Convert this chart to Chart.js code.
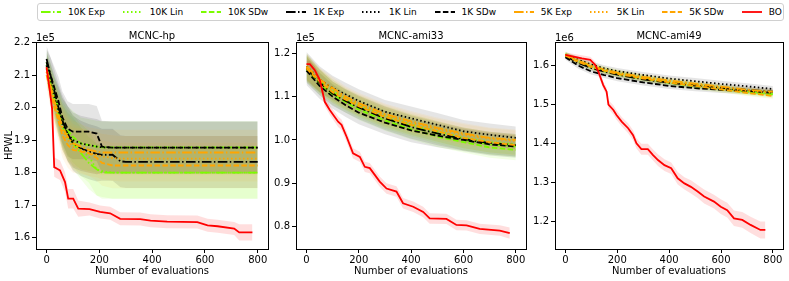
<!DOCTYPE html>
<html>
<head>
<meta charset="utf-8">
<script src="https://cdn.jsdelivr.net/npm/chart.js@4.4.0/dist/chart.umd.min.js"></script>
<style>
  html, body { margin: 0; padding: 0; background: #fff; }
  body { width: 789px; height: 281px; position: relative; overflow: hidden; font-family: 'DejaVu Sans', sans-serif; }
  #legend {
    position: absolute; left: 37px; top: 3px; width: 742px; height: 16px;
    border: 1px solid #d0d0d0; border-radius: 3px;
    display: flex; align-items: center; gap: 17.8px; padding-left: 3px; box-sizing: content-box;
    font-size: 9px; color: #000;
  }
  .item { display: flex; align-items: center; white-space: nowrap; }
  .item svg { margin-right: 7px; }
  canvas { position: absolute; top: 22px; }
</style>
</head>
<body>
<div id="legend"></div>
<canvas id="hpChart" width="272" height="259" style="left:0px"></canvas>
<canvas id="ami33Chart" width="260" height="259" style="left:270px"></canvas>
<canvas id="ami49Chart" width="259" height="259" style="left:530px"></canvas>
<script>
const seriesLabels = ['10K Exp', '10K Lin', '10K SDw', '1K Exp', '1K Lin', '1K SDw', '5K Exp', '5K Lin', '5K SDw', 'BO'];
const xTicks = [0, 200, 400, 600, 800];

// ---- MCNC-hp (x1e5) ----
const hpEvals = [0, 15, 30, 45, 60, 80, 100, 130, 160, 190, 210, 250, 280, 300, 400, 500, 600, 700, 800];
const hp10KExp = [2.13, 2.07, 2.02, 1.98, 1.94, 1.91, 1.89, 1.86, 1.83, 1.81, 1.80, 1.80, 1.80, 1.80, 1.80, 1.80, 1.80, 1.80, 1.80];
const hp10KLin = [2.12, 2.08, 2.03, 1.99, 1.95, 1.92, 1.90, 1.87, 1.85, 1.81, 1.805, 1.80, 1.80, 1.80, 1.80, 1.80, 1.80, 1.80, 1.80];
const hp10KSDw = [2.14, 2.09, 2.04, 2.00, 1.96, 1.93, 1.91, 1.89, 1.885, 1.88, 1.878, 1.878, 1.878, 1.878, 1.878, 1.878, 1.878, 1.878, 1.878];
const hp1KExp = [2.15, 2.10, 2.05, 2.00, 1.96, 1.92, 1.89, 1.875, 1.865, 1.858, 1.855, 1.855, 1.835, 1.833, 1.833, 1.833, 1.833, 1.833, 1.833];
const hp1KLin = [2.13, 2.08, 2.03, 1.99, 1.95, 1.92, 1.90, 1.89, 1.885, 1.88, 1.878, 1.877, 1.877, 1.877, 1.877, 1.877, 1.877, 1.877, 1.877];
const hp1KSDw = [2.14, 2.10, 2.06, 2.02, 1.97, 1.935, 1.926, 1.926, 1.926, 1.92, 1.88, 1.877, 1.877, 1.877, 1.877, 1.877, 1.877, 1.877, 1.877];
const hp5KExp = [2.12, 2.07, 2.02, 1.98, 1.94, 1.91, 1.89, 1.88, 1.87, 1.865, 1.862, 1.862, 1.862, 1.862, 1.862, 1.862, 1.862, 1.862, 1.862];
const hp5KLin = [2.11, 2.06, 2.01, 1.97, 1.93, 1.90, 1.88, 1.87, 1.86, 1.855, 1.85, 1.845, 1.843, 1.843, 1.843, 1.843, 1.843, 1.843, 1.843];
const hp5KSDw = [2.10, 2.05, 2.00, 1.96, 1.915, 1.885, 1.87, 1.865, 1.86, 1.845, 1.83, 1.822, 1.822, 1.822, 1.822, 1.822, 1.822, 1.822, 1.822];
const hpSpread10K = [0.04, 0.05, 0.06, 0.065, 0.07, 0.075, 0.08, 0.08, 0.08, 0.08, 0.08, 0.08, 0.08, 0.08, 0.08, 0.08, 0.08, 0.08, 0.08];
const hpSpread1K = [0.04, 0.055, 0.065, 0.075, 0.08, 0.085, 0.085, 0.085, 0.085, 0.085, 0.08, 0.08, 0.08, 0.08, 0.08, 0.08, 0.08, 0.08, 0.08];
const hpSpread5K = [0.04, 0.05, 0.06, 0.065, 0.07, 0.07, 0.07, 0.07, 0.07, 0.07, 0.07, 0.07, 0.07, 0.07, 0.07, 0.07, 0.07, 0.07, 0.07];
const hpBoEvals = [0, 13, 21, 29, 40, 51, 70, 82, 101, 120, 163, 203, 241, 279, 355, 394, 457, 571, 610, 648, 711, 730, 780];
const hpBo = [2.125, 2.048, 1.997, 1.817, 1.812, 1.807, 1.771, 1.72, 1.72, 1.689, 1.688, 1.679, 1.675, 1.658, 1.657, 1.652, 1.649, 1.648, 1.638, 1.635, 1.628, 1.616, 1.616];
const hpBoSpread = [0.01, 0.02, 0.03, 0.03, 0.03, 0.03, 0.03, 0.03, 0.03, 0.025, 0.02, 0.02, 0.02, 0.02, 0.02, 0.02, 0.02, 0.02, 0.02, 0.02, 0.02, 0.025, 0.025];
const hpYTicks = [1.6, 1.7, 1.8, 1.9, 2.0, 2.1, 2.2];

// ---- MCNC-ami33 (x1e5) ----
const ami33Evals = [0, 50, 100, 150, 200, 300, 400, 500, 600, 700, 800];
const ami3310KExp = [1.165, 1.135, 1.11, 1.092, 1.076, 1.05, 1.032, 1.015, 1.0, 0.99, 0.985];
const ami3310KLin = [1.17, 1.138, 1.114, 1.095, 1.08, 1.055, 1.036, 1.02, 1.005, 0.995, 0.99];
const ami3310KSDw = [1.163, 1.13, 1.105, 1.087, 1.07, 1.045, 1.025, 1.008, 0.995, 0.983, 0.977];
const ami331KExp = [1.165, 1.133, 1.107, 1.09, 1.075, 1.05, 1.03, 1.015, 1.002, 0.993, 0.988];
const ami331KLin = [1.17, 1.14, 1.12, 1.105, 1.09, 1.065, 1.05, 1.035, 1.02, 1.012, 1.005];
const ami331KSDw = [1.16, 1.125, 1.1, 1.08, 1.063, 1.04, 1.022, 1.01, 1.0, 0.99, 0.985];
const ami335KExp = [1.17, 1.14, 1.12, 1.10, 1.085, 1.06, 1.043, 1.028, 1.015, 1.005, 1.0];
const ami335KLin = [1.168, 1.138, 1.115, 1.097, 1.082, 1.058, 1.04, 1.025, 1.012, 1.003, 0.998];
const ami335KSDw = [1.165, 1.135, 1.11, 1.093, 1.078, 1.053, 1.035, 1.02, 1.005, 0.995, 0.988];
const ami33Spread10K = [0.03, 0.027, 0.025, 0.024, 0.024, 0.024, 0.024, 0.024, 0.024, 0.024, 0.024];
const ami33Spread1K = [0.033, 0.03, 0.028, 0.027, 0.027, 0.027, 0.027, 0.027, 0.026, 0.026, 0.026];
const ami33Spread5K = [0.03, 0.027, 0.025, 0.024, 0.024, 0.024, 0.024, 0.024, 0.024, 0.024, 0.024];
const ami33BoEvals = [0, 13, 32, 51, 70, 89, 121, 134, 153, 178, 204, 223, 242, 280, 306, 344, 369, 408, 446, 471, 535, 573, 612, 662, 739, 777];
const ami33Bo = [1.175, 1.175, 1.161, 1.138, 1.088, 1.069, 1.042, 1.035, 1.008, 0.969, 0.961, 0.938, 0.935, 0.904, 0.888, 0.881, 0.854, 0.846, 0.834, 0.819, 0.818, 0.804, 0.803, 0.795, 0.791, 0.785];
const ami33BoSpread = [0.008, 0.008, 0.009, 0.01, 0.01, 0.011, 0.012, 0.012, 0.012, 0.012, 0.012, 0.012, 0.012, 0.012, 0.012, 0.012, 0.012, 0.012, 0.012, 0.012, 0.012, 0.012, 0.012, 0.012, 0.012, 0.013];
const ami33YTicks = [0.8, 0.9, 1.0, 1.1, 1.2];

// ---- MCNC-ami49 (x1e6) ----
const ami49Evals = [0, 50, 100, 150, 200, 300, 400, 500, 600, 700, 800];
const ami4910KExp = [1.628, 1.611, 1.598, 1.588, 1.58, 1.568, 1.558, 1.55, 1.542, 1.533, 1.527];
const ami4910KLin = [1.63, 1.613, 1.6, 1.59, 1.582, 1.57, 1.561, 1.552, 1.544, 1.536, 1.53];
const ami4910KSDw = [1.627, 1.61, 1.596, 1.586, 1.578, 1.566, 1.556, 1.547, 1.539, 1.531, 1.524];
const ami491KExp = [1.625, 1.607, 1.594, 1.585, 1.577, 1.565, 1.556, 1.549, 1.543, 1.538, 1.533];
const ami491KLin = [1.628, 1.615, 1.603, 1.593, 1.586, 1.576, 1.567, 1.56, 1.553, 1.547, 1.54];
const ami491KSDw = [1.622, 1.6, 1.585, 1.576, 1.568, 1.557, 1.548, 1.542, 1.538, 1.535, 1.53];
const ami495KExp = [1.628, 1.613, 1.600, 1.59, 1.582, 1.571, 1.562, 1.554, 1.546, 1.538, 1.533];
const ami495KLin = [1.627, 1.612, 1.598, 1.588, 1.58, 1.569, 1.56, 1.551, 1.543, 1.535, 1.53];
const ami495KSDw = [1.626, 1.61, 1.597, 1.587, 1.579, 1.567, 1.557, 1.548, 1.539, 1.53, 1.522];
const ami49Spread10K = [0.007, 0.008, 0.008, 0.008, 0.008, 0.008, 0.008, 0.008, 0.008, 0.008, 0.008];
const ami49Spread1K = [0.007, 0.008, 0.008, 0.008, 0.008, 0.008, 0.008, 0.008, 0.008, 0.008, 0.008];
const ami49Spread5K = [0.007, 0.008, 0.008, 0.008, 0.008, 0.008, 0.008, 0.008, 0.008, 0.008, 0.008];
const ami49BoEvals = [0, 64, 96, 115, 127, 146, 159, 166, 185, 197, 217, 242, 261, 274, 293, 318, 338, 357, 382, 408, 433, 459, 484, 510, 535, 573, 599, 624, 650, 682, 714, 752, 771];
const ami49Bo = [1.628, 1.619, 1.615, 1.602, 1.585, 1.55, 1.533, 1.5, 1.486, 1.473, 1.456, 1.439, 1.421, 1.4, 1.385, 1.385, 1.37, 1.357, 1.344, 1.336, 1.31, 1.297, 1.288, 1.276, 1.263, 1.25, 1.237, 1.228, 1.207, 1.203, 1.19, 1.177, 1.177];
const ami49BoSpread = [0.006, 0.008, 0.008, 0.009, 0.01, 0.01, 0.01, 0.011, 0.012, 0.012, 0.012, 0.013, 0.013, 0.013, 0.014, 0.014, 0.014, 0.015, 0.015, 0.015, 0.016, 0.016, 0.017, 0.017, 0.018, 0.018, 0.019, 0.019, 0.02, 0.02, 0.021, 0.022, 0.022];
const ami49YTicks = [1.2, 1.3, 1.4, 1.5, 1.6];

// styles
const GREEN = '#7cfc00', ORANGE = '#ffa500', BLACK = '#000000', RED = '#ff0000';
const DASHED = [5.5, 2.4], DOTTED = [1.5, 2.5], DASHDOT = [9.6, 2.4, 1.5, 2.4];
const styles = {
  '10K Exp': { color: GREEN, dash: DASHDOT, band: 'rgba(124,252,0,0.10)' },
  '10K Lin': { color: GREEN, dash: DOTTED, band: 'rgba(124,252,0,0.10)' },
  '10K SDw': { color: GREEN, dash: DASHED, band: 'rgba(124,252,0,0.10)' },
  '1K Exp': { color: BLACK, dash: DASHDOT, band: 'rgba(0,0,0,0.10)' },
  '1K Lin': { color: BLACK, dash: DOTTED, band: 'rgba(0,0,0,0.10)' },
  '1K SDw': { color: BLACK, dash: DASHED, band: 'rgba(0,0,0,0.10)' },
  '5K Exp': { color: ORANGE, dash: DASHDOT, band: 'rgba(255,165,0,0.08)' },
  '5K Lin': { color: ORANGE, dash: DOTTED, band: 'rgba(255,165,0,0.08)' },
  '5K SDw': { color: ORANGE, dash: DASHED, band: 'rgba(255,165,0,0.08)' },
  'BO': { color: RED, dash: [], band: 'rgba(255,0,0,0.13)' },
};

// legend
const legendEl = document.getElementById('legend');
seriesLabels.forEach((lab) => {
  const s = styles[lab];
  const item = document.createElement('div');
  item.className = 'item';
  item.innerHTML = `<svg width="20" height="8"><line x1="0" y1="4" x2="20" y2="4" stroke="${s.color}" stroke-width="1.8" stroke-dasharray="${s.dash.join(',') || 'none'}"/></svg><span>${lab}</span>`;
  legendEl.appendChild(item);
});

const decorPlugin = {
  id: 'decor',
  afterDraw(chart) {
    const { ctx, chartArea: a } = chart;
    const o = chart.options.plugins.decor;
    ctx.save();
    ctx.strokeStyle = '#000';
    ctx.lineWidth = 1;
    ctx.strokeRect(Math.round(a.left) + 0.5, Math.round(a.top) + 0.5, Math.round(a.right - a.left), Math.round(a.bottom - a.top));
    ctx.fillStyle = '#000';
    ctx.font = "10px 'DejaVu Sans'";
    ctx.textBaseline = 'alphabetic';
    ctx.textAlign = 'center';
    ctx.fillText(o.title, (a.left + a.right) / 2, a.top - 3.5);
    ctx.textAlign = 'left';
    ctx.fillText(o.offset, a.left, a.top - 1.5);
    ctx.restore();
  },
};

function pts(xs, ys, off) {
  return xs.map((x, i) => ({ x: x, y: ys[i] + (off ? off[i] : 0) }));
}
function neg(arr) { return arr.map((v) => -v); }

function makeChart(id, cfg) {
  const datasets = [];
  seriesLabels.forEach((lab, i) => {
    const s = styles[lab];
    const isBo = lab === 'BO';
    const xs = isBo ? cfg.boEvals : cfg.evals;
    const mean = isBo ? cfg.bo : cfg.means[i];
    const spread = isBo ? cfg.boSpread : cfg.spreads[lab.split(' ')[0]];
    datasets.push({
      data: pts(xs, mean, neg(spread)), borderColor: 'rgba(0,0,0,0)', borderWidth: 0,
      pointRadius: 0, fill: false, order: 100 - i,
    });
    datasets.push({
      data: pts(xs, mean, spread), borderColor: 'rgba(0,0,0,0)', borderWidth: 0,
      backgroundColor: s.band, pointRadius: 0, fill: '-1', order: 100 - i,
    });
    datasets.push({
      label: lab, data: pts(xs, mean), borderColor: s.color, borderWidth: 1.8,
      borderDash: s.dash, pointRadius: 0, fill: false, order: -i, tension: 0,
    });
  });
  const font = { family: 'DejaVu Sans', size: 10 };
  return new Chart(document.getElementById(id), {
    type: 'line',
    data: { datasets },
    plugins: [decorPlugin],
    options: {
      responsive: false,
      animation: false,
      layout: { padding: { top: 20, right: cfg.padRight, left: 0, bottom: 0 } },
      plugins: {
        legend: { display: false },
        tooltip: { enabled: false },
        filler: { drawTime: 'beforeDatasetsDraw' },
        decor: { title: cfg.title, offset: cfg.offset },
      },
      scales: {
        x: {
          type: 'linear', min: -40, max: 839,
          afterBuildTicks: (sc) => { sc.ticks = xTicks.map((v) => ({ value: v })); },
          afterFit: (sc) => { sc.height = 32; },
          grid: { drawOnChartArea: false, drawTicks: true, tickLength: 4, color: '#000' },
          border: { display: false },
          ticks: { font, color: '#000', padding: 1, maxRotation: 0 },
          title: { display: true, text: 'Number of evaluations', font, color: '#000', padding: { top: 2, bottom: 4 } },
        },
        y: {
          type: 'linear', min: cfg.yMin, max: cfg.yMax,
          afterBuildTicks: (sc) => { sc.ticks = cfg.yTicks.map((v) => ({ value: v })); },
          afterFit: (sc) => { sc.width = cfg.yWidth; },
          grid: { drawOnChartArea: false, drawTicks: true, tickLength: 4, color: '#000' },
          border: { display: false },
          ticks: { font, color: '#000', padding: 2, callback: (v) => v.toFixed(1) },
          title: { display: !!cfg.yTitle, text: cfg.yTitle || '', font, color: '#000', padding: { top: 3, bottom: 0 } },
        },
      },
    },
  });
}

makeChart('hpChart', {
  title: 'MCNC-hp', offset: '1e5', yTitle: 'HPWL', yWidth: 36, padRight: 4,
  evals: hpEvals,
  means: [hp10KExp, hp10KLin, hp10KSDw, hp1KExp, hp1KLin, hp1KSDw, hp5KExp, hp5KLin, hp5KSDw],
  spreads: { '10K': hpSpread10K, '1K': hpSpread1K, '5K': hpSpread5K },
  boEvals: hpBoEvals, bo: hpBo, boSpread: hpBoSpread,
  yMin: 1.565, yMax: 2.202, yTicks: hpYTicks,
});
makeChart('ami33Chart', {
  title: 'MCNC-ami33', offset: '1e5', yWidth: 26, padRight: 4,
  evals: ami33Evals,
  means: [ami3310KExp, ami3310KLin, ami3310KSDw, ami331KExp, ami331KLin, ami331KSDw, ami335KExp, ami335KLin, ami335KSDw],
  spreads: { '10K': ami33Spread10K, '1K': ami33Spread1K, '5K': ami33Spread5K },
  boEvals: ami33BoEvals, bo: ami33Bo, boSpread: ami33BoSpread,
  yMin: 0.7485, yMax: 1.226, yTicks: ami33YTicks,
});
makeChart('ami49Chart', {
  title: 'MCNC-ami49', offset: '1e6', yWidth: 25, padRight: 6,
  evals: ami49Evals,
  means: [ami4910KExp, ami4910KLin, ami4910KSDw, ami491KExp, ami491KLin, ami491KSDw, ami495KExp, ami495KLin, ami495KSDw],
  spreads: { '10K': ami49Spread10K, '1K': ami49Spread1K, '5K': ami49Spread5K },
  boEvals: ami49BoEvals, bo: ami49Bo, boSpread: ami49BoSpread,
  yMin: 1.128, yMax: 1.661, yTicks: ami49YTicks,
});
</script>
</body>
</html>
